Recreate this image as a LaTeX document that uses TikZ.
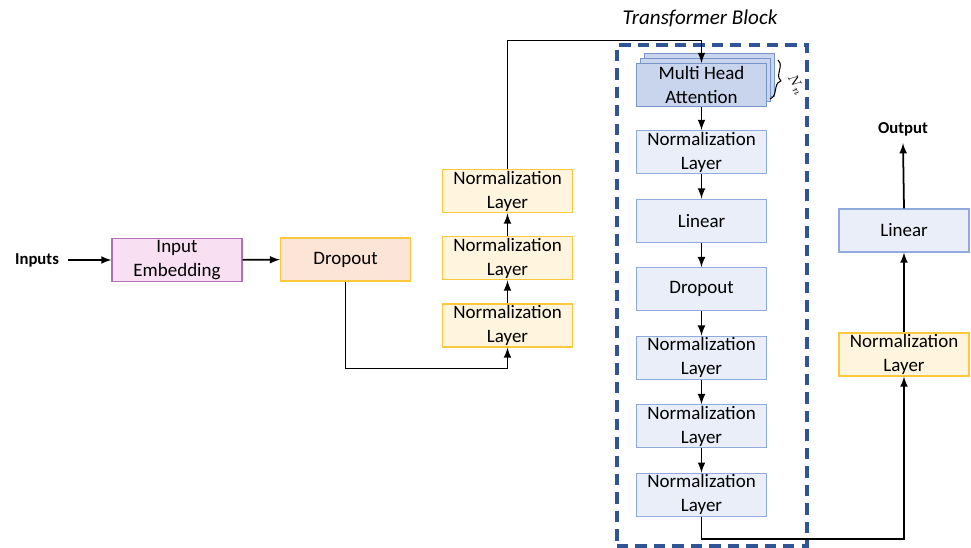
\documentclass[tikz,border=0pt]{standalone}
\usepackage{fontspec}
\setmainfont{Carlito}
\usetikzlibrary{positioning,decorations.pathreplacing}

\definecolor{embfill}{RGB}{248,224,242}
\definecolor{embline}{RGB}{180,110,180}
\definecolor{dropfill}{RGB}{252,228,214}
\definecolor{goldline}{RGB}{255,200,60}
\definecolor{yelfill}{RGB}{255,245,222}
\definecolor{blufill}{RGB}{233,238,248}
\definecolor{bluline}{RGB}{143,170,220}
\definecolor{mhafill}{RGB}{200,213,236}
\definecolor{mhaline}{RGB}{120,150,200}
\definecolor{tbblue}{RGB}{47,85,151}

\begin{document}
\begin{tikzpicture}[x=0.02cm, y=0.02cm]
	\tikzstyle{layer}=[rectangle, minimum width=2.6cm, minimum height=0.86cm, inner sep=0pt, align=center, line width=0.6pt, font=\fontsize{10.8}{13.6}\selectfont]
	\tikzstyle{yellayer}=[layer, fill=yelfill, draw=goldline]
	\tikzstyle{blulayer}=[layer, fill=blufill, draw=bluline]
	\tikzstyle{mhalayer}=[layer, fill=mhafill, draw=mhaline]
	\tikzstyle{label}=[font=\bfseries\fontsize{9.5}{11}\selectfont, inner sep=1pt]
	\tikzstyle{connect}=[-latex, line width=1pt]
	\tikzstyle{tblock}=[rectangle, draw=tbblue, line width=1.8pt, dash pattern=on 6.5pt off 4pt, minimum width=3.8cm, minimum height=10.02cm]
	\useasboundingbox (0,0) rectangle (971,548);

	% input side
	\node[label, inner xsep=5pt] (inputs) at (37,288) {Inputs};
	\node[layer, fill=embfill, draw=embline] (emb) at (177,288) {Input\\Embedding};
	\node[layer, fill=dropfill, draw=goldline] (drop) at (345.5,288.5) {Dropout};
	\node[yellayer] (nl1) at (507.5,222.5) {Normalization\\Layer};
	\node[yellayer] (nl2) [above=0.46cm of nl1] {Normalization\\Layer};
	\node[yellayer] (nl3) [above=0.46cm of nl2] {Normalization\\Layer};

	% transformer block
	\node[tblock] (tb) at (712,252.5) {};
	\node[font=\itshape\fontsize{12}{14}\selectfont] (tbtitle) at (700,530) {Transformer Block};
	\node[mhalayer] (mhab) at (709.5,473) {};
	\node[mhalayer] (mham) at (705.5,468) {};
	\node[mhalayer] (mha) at (701.5,463) {Multi Head\\Attention};
	\node[blulayer] (nla) [below=0.46cm of mha] {Normalization\\Layer};
	\node[blulayer] (lin) [below=0.49cm of nla] {Linear};
	\node[blulayer] (tdrop) [below=0.49cm of lin] {Dropout};
	\node[blulayer] (nlb) [below=0.49cm of tdrop] {Normalization\\Layer};
	\node[blulayer] (nlc) [below=0.49cm of nlb] {Normalization\\Layer};
	\node[blulayer] (nld) [below=0.49cm of nlc] {Normalization\\Layer};
	\draw[decorate, decoration={brace, amplitude=4pt}, line width=0.6pt] (778,488) -- (770,449);
	\node[rotate=-60, font=\fontsize{8}{9}\selectfont, inner sep=0pt] (nn) at (796,463) {$N_n$};

	% output side
	\node[yellayer] (onl) at (904,193.5) {Normalization\\Layer};
	\node[blulayer] (olin) at (904,317.5) {Linear};
	\node[label, inner ysep=4pt] (output) at (903,419) {Output};

	\path (inputs) edge [connect] (emb)
	(emb) edge [connect] (drop)
	(nl1) edge [connect] (nl2)
	(nl2) edge [connect] (nl3)
	(mha) edge [connect] (nla)
	(nla) edge [connect] (lin)
	(lin) edge [connect] (tdrop)
	(tdrop) edge [connect] (nlb)
	(nlb) edge [connect] (nlc)
	(nlc) edge [connect] (nld)
	(onl) edge [connect] (olin)
	(olin.north) edge [connect] (output.south);
	\draw[connect] (drop.south) -- ++(0,-87) -| (nl1.south);
	\draw[connect] (nl3.north) -- ++(0,129) -| (mha.north);
	\draw[connect] (nld.south) -- ++(0,-22) -| (onl.south);
\end{tikzpicture}
\end{document}
